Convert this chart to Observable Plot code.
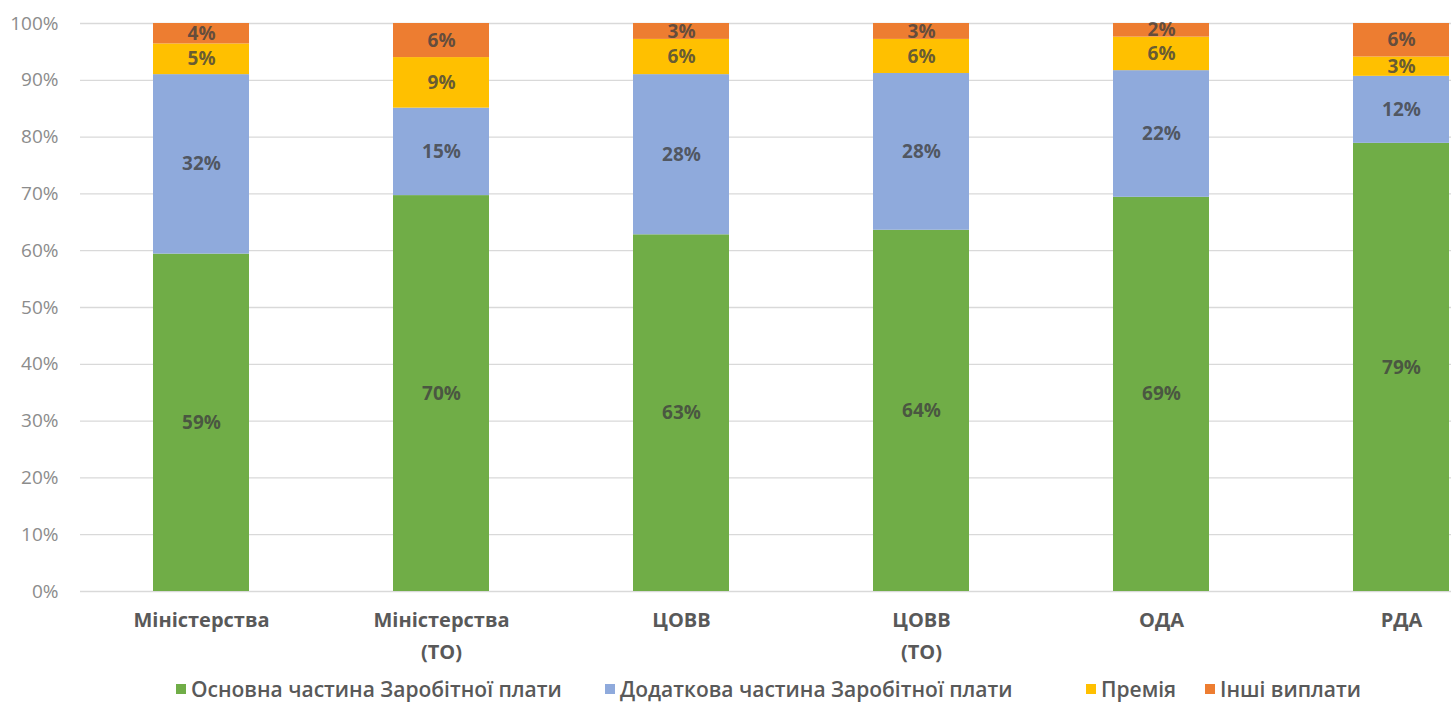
<!DOCTYPE html>
<html><head><meta charset="utf-8">
<script src="https://cdn.jsdelivr.net/npm/d3@7"></script>
<script src="https://cdn.jsdelivr.net/npm/@observablehq/plot@0.6"></script>
<style>
body{margin:0;background:#fff;font-family:"Open Sans",sans-serif;}
#legend{position:relative;width:1451px;height:43px;}
#legend .item{position:absolute;top:7px;display:flex;align-items:center;font-size:21px;font-weight:600;color:#595959;white-space:nowrap;line-height:28px;}
#legend .sw{width:10px;height:10px;margin-right:5px;}
</style></head><body>
<div id="chart"></div><div id="legend"></div>
<script>
const categories = ["Міністерства","Міністерства\n(ТО)","ЦОВВ","ЦОВВ\n(ТО)","ОДА","РДА"];
const seriesNames = ["Основна частина Заробітної плати","Додаткова частина Заробітної плати","Премія","Інші виплати"];
const basic = [59.4,69.7,62.8,63.6,69.4,78.9];
const additional = [31.6,15.4,28.2,27.6,22.3,11.8];
const bonus = [5.4,8.9,6.2,6.0,5.9,3.4];
const other = [3.6,6.0,2.8,2.8,2.4,5.9];
const colors = ["#70AD47","#8FAADC","#FFC000","#ED7D31"];
const yTicks = [0,10,20,30,40,50,60,70,80,90,100];

const seriesValues = [basic, additional, bonus, other];
const rows = [];
seriesValues.forEach((vals, s) => vals.forEach((v, i) => rows.push({category: categories[i], series: seriesNames[s], value: v})));

const chart = Plot.plot({
  width: 1451, height: 668,
  marginTop: 23, marginBottom: 77, marginLeft: 80, marginRight: 0,
  style: {fontFamily: "Open Sans", background: "white"},
  x: {domain: categories, range: [79.5, 1522.5], paddingInner: 0.6, paddingOuter: 0.3, label: null},
  y: {domain: [0, 100], label: null},
  color: {domain: seriesNames, range: colors},
  marks: [
    Plot.ruleY(yTicks, {stroke: "#d9d9d9", strokeWidth: 1.3}),
    Plot.barY(rows, Plot.stackY({x: "category", y: "value", fill: "series", z: "series", order: seriesNames})),
    Plot.text(rows, Plot.stackY({x: "category", y: "value", z: "series", order: seriesNames,
      text: d => Math.round(d.value) + "%", fill: "#404040", fillOpacity: 0.8, fontWeight: "bold", fontSize: 19})),
    Plot.axisY({ticks: yTicks, tickFormat: d => d + "%", tickSize: 0, tickPadding: 22, fontSize: 19, fill: "#8c8c8c", label: null}),
    Plot.axisX({tickSize: 0, tickPadding: 13, fontSize: 20, fontWeight: "bold", fill: "#595959", lineHeight: 1.6, label: null})
  ]
});
document.getElementById("chart").appendChild(chart);

const legendLeft = [176, 605, 1086, 1205];
const legend = document.getElementById("legend");
seriesNames.forEach((name, i) => {
  const item = document.createElement("div");
  item.className = "item";
  item.style.left = legendLeft[i] + "px";
  const sw = document.createElement("span");
  sw.className = "sw";
  sw.style.background = colors[i];
  const t = document.createElement("span");
  t.textContent = name;
  item.appendChild(sw); item.appendChild(t);
  legend.appendChild(item);
});
</script>
</body></html>
